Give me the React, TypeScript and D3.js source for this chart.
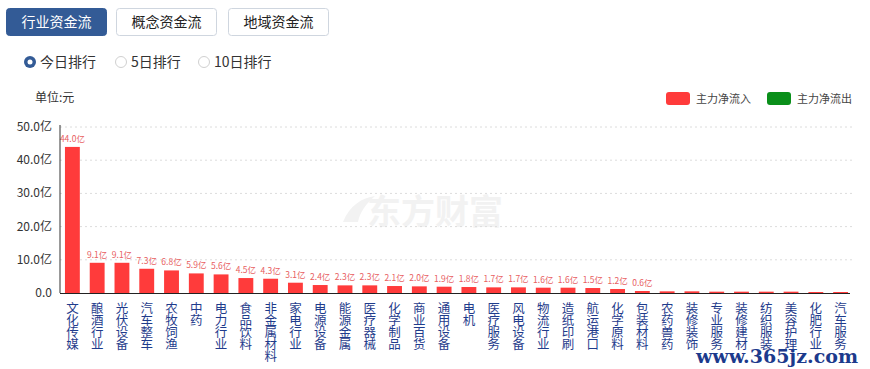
import React from "react";
import * as d3 from "d3";

const categories = ["文化传媒","酿酒行业","光伏设备","汽车整车","农牧饲渔","中药","电力行业","食品饮料","非金属材料","家电行业","电源设备","能源金属","医疗器械","化学制品","商业百货","通用设备","电机","医疗服务","风电设备","物流行业","造纸印刷","航运港口","化学原料","包装材料","农药兽药","装修装饰","专业服务","装修建材","纺织服装","美容护理","化肥行业","汽车服务"];
const inflow = [44.0,9.1,9.1,7.3,6.8,5.9,5.6,4.5,4.3,3.1,2.4,2.3,2.3,2.1,2.0,1.9,1.8,1.7,1.7,1.6,1.6,1.5,1.2,0.6,0.5,0.5,0.4,0.4,0.4,0.4,0.3,0.3];
const yTicks = [0,10,20,30,40,50];
const tabs = ["行业资金流","概念资金流","地域资金流"];
const radios = ["今日排行","5日排行","10日排行"];

const W = 870, H = 369;
const left = 60, right = 853, top = 127, bottom = 293;

export default function App() {
  const x = d3.scaleBand<string>().domain(categories).range([left, right]).paddingInner(0.4).paddingOuter(0.2);
  const y = d3.scaleLinear().domain([0, 50]).range([bottom, top]);
  const fmt = (v: number) => (v === 0 ? "0.0" : d3.format(".1f")(v) + "亿");
  const font = "'Microsoft YaHei', 'Noto Sans CJK SC', sans-serif";
  const tabX = [6, 116, 228];
  const radioX = [30, 121, 204];
  return (
    <div style={{ position: "absolute", left: 0, top: 0 }}>
      <svg width={W} height={H} style={{ display: "block", fontFamily: font }}>
        <rect width={W} height={H} fill="#fff" />
        {tabs.map((t, i) => (
          <g key={t}>
            <rect x={tabX[i] + 0.5} y={8.5} width={100} height={27} rx={3}
              fill={i === 0 ? "#335b96" : "#fff"} stroke={i === 0 ? "#335b96" : "#cfd6df"} />
            <text x={tabX[i] + 50.5} y={27} textAnchor="middle" fontSize={14}
              fill={i === 0 ? "#fff" : "#222"}>{t}</text>
          </g>
        ))}
        {radios.map((r, i) => (
          <g key={r}>
            {i === 0 ? (
              <g>
                <circle cx={radioX[i]} cy={62} r={6} fill="#335b96" />
                <circle cx={radioX[i]} cy={62} r={2.5} fill="#fff" />
              </g>
            ) : (
              <circle cx={radioX[i]} cy={62} r={5.5} fill="#fff" stroke="#d0d0d0" />
            )}
            <text x={radioX[i] + 10} y={67} fontSize={14} fill="#333">{r}</text>
          </g>
        ))}
        <text x={35} y={102} fontSize={12} fill="#333">单位:元</text>
        <rect x={666} y={92} width={24} height={13} rx={3} fill="#ff3b3b" />
        <text x={696} y={103} fontSize={11} fill="#444">主力净流入</text>
        <rect x={767} y={92} width={24} height={13} rx={3} fill="#0a8f1a" />
        <text x={797} y={103} fontSize={11} fill="#444">主力净流出</text>

        <text x={435} y={224} textAnchor="middle" fontSize={34} fontWeight="bold" fill="#f2f2f2">东方财富</text>
        <path d="M343,222 C350,205 362,198 375,196 C366,204 360,212 358,222 Z" fill="#f2f2f2" />

        {yTicks.slice(1).map(t => (
          <line key={t} x1={left} x2={right} y1={y(t)} y2={y(t)} stroke="#dcdcdc" strokeDasharray="2,3" />
        ))}
        {yTicks.map(t => (
          <text key={t} x={52} y={y(t) + 4} textAnchor="end" fontSize={12} fill="#333">{fmt(t)}</text>
        ))}
        {categories.map((c, i) => {
          const cx = x(c)! + x.bandwidth() / 2;
          return (
            <g key={c}>
              <rect x={x(c)} y={y(inflow[i])} width={x.bandwidth()} height={bottom - y(inflow[i])} fill="#ff3b3b" />
              {inflow[i] >= 0.6 && (
                <text x={cx} y={y(inflow[i]) - 5} textAnchor="middle" fontSize={8.5} fill="#e8605f">{fmt(inflow[i])}</text>
              )}
              <text x={cx} y={302} fontSize={12.5} fill="#1f3c8c"
                style={{ writingMode: "vertical-rl", textOrientation: "upright" } as any}
                letterSpacing={-0.5}>{c}</text>
            </g>
          );
        })}
        <line x1={left} x2={left} y1={top - 2} y2={bottom} stroke="#333" />
        <line x1={left} x2={right - 3} y1={bottom + 0.5} y2={bottom + 0.5} stroke="#222" />
        <text x={858} y={363} textAnchor="end" fontSize={19} fontWeight="bold" fill="#1c3a8c" fontFamily="'DejaVu Serif', serif">www.365jz.com</text>
      </svg>
    </div>
  );
}
